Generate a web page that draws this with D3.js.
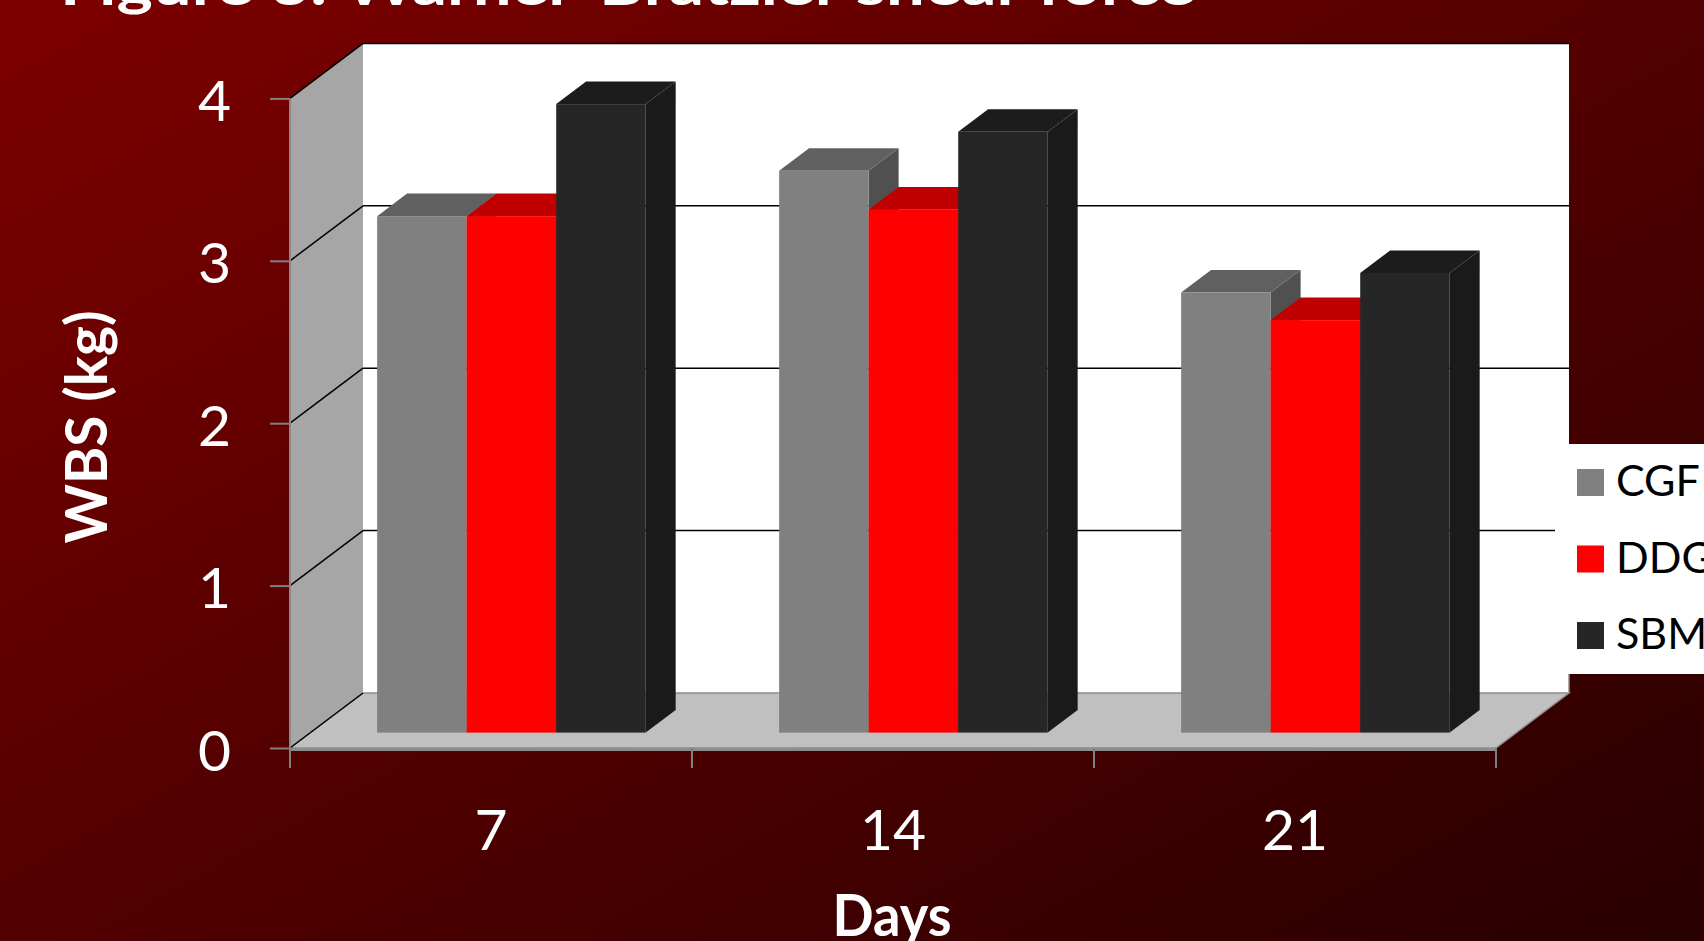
<!DOCTYPE html>
<html>
<head>
<meta charset="utf-8">
<script src="https://cdn.jsdelivr.net/npm/d3@7"></script>
<style>
  body { margin: 0; overflow: hidden; }
  text { font-family: Lato, "Open Sans", sans-serif; }
</style>
</head>
<body>
<div class="chart"></div>
<script>
let days = ["7", "14", "21"];
let series = ["CGF", "DDG", "SBM"];
let cgf = [3.18, 3.46, 2.71];
let ddg = [3.18, 3.22, 2.54];
let sbm = [3.87, 3.70, 2.83];
let yTicks = [0, 1, 2, 3, 4];

let values = { CGF: cgf, DDG: ddg, SBM: sbm };

let svgWidth = 1704;
let svgHeight = 941;

// oblique depth of the 3d box
let depthX = 73;
let depthY = 55;
let barZ0 = 0.28;
let barZ1 = 0.69;

let colors = {
  CGF: { front: "#808080", top: "#606060", side: "#505050" },
  DDG: { front: "#ff0000", top: "#c00000", side: "#a00000" },
  SBM: { front: "#262626", top: "#1c1c1c", side: "#1a1a1a" }
};

let svg = d3.select(".chart")
  .append("svg")
  .attr("width", svgWidth)
  .attr("height", svgHeight);

let grad = svg.append("defs").append("linearGradient")
  .attr("id", "bg")
  .attr("x1", 0).attr("y1", 0)
  .attr("x2", 1).attr("y2", 1);
grad.append("stop").attr("offset", "0%").attr("stop-color", "#7e0000");
grad.append("stop").attr("offset", "100%").attr("stop-color", "#280000");

svg.append("rect")
  .attr("width", svgWidth)
  .attr("height", svgHeight)
  .attr("fill", "url(#bg)");

let xScale = d3.scaleBand()
  .domain(days)
  .range([290, 1496]);

let barScale = d3.scaleBand()
  .domain(series)
  .range([0, xScale.bandwidth()])
  .paddingOuter(0.745);

let yScale = d3.scaleLinear()
  .domain([0, 4])
  .range([748, 98.4]);

let x0 = xScale.range()[0];
let x1 = xScale.range()[1];
let yTop = yScale(4);
let yBase = yScale(0);

// back wall
svg.append("rect")
  .attr("x", x0 + depthX)
  .attr("y", yTop - depthY)
  .attr("width", x1 - x0)
  .attr("height", yBase - yTop)
  .attr("fill", "white");

// side wall
svg.append("polygon")
  .attr("points", [
    [x0, yTop], [x0 + depthX, yTop - depthY],
    [x0 + depthX, yBase - depthY], [x0, yBase]
  ].join(" "))
  .attr("fill", "#a6a6a6");

// floor
svg.append("polygon")
  .attr("points", [
    [x0, yBase], [x1, yBase],
    [x1 + depthX, yBase - depthY], [x0 + depthX, yBase - depthY]
  ].join(" "))
  .attr("fill", "#c0c0c0")
  .attr("stroke", "#8c8c8c")
  .attr("stroke-width", 1.5);

svg.append("rect")
  .attr("x", x0)
  .attr("y", yBase)
  .attr("width", x1 - x0)
  .attr("height", 3)
  .attr("fill", "#8c8c8c");

svg.append("line")
  .attr("x1", x1 + depthX).attr("x2", x1 + depthX)
  .attr("y1", yBase - depthY - 20).attr("y2", yBase - depthY)
  .attr("stroke", "#8c8c8c")
  .attr("stroke-width", 1.5);

// gridlines on back and side walls
svg.selectAll(".grid")
  .data(yTicks.filter(d => d > 0))
  .enter()
  .append("line")
  .classed("grid", true)
  .attr("x1", x0 + depthX)
  .attr("x2", x1 + depthX)
  .attr("y1", d => yScale(d) - depthY)
  .attr("y2", d => yScale(d) - depthY)
  .attr("stroke", "black")
  .attr("stroke-width", 1.5);

svg.selectAll(".sidegrid")
  .data(yTicks)
  .enter()
  .append("line")
  .classed("sidegrid", true)
  .attr("x1", x0)
  .attr("x2", x0 + depthX)
  .attr("y1", d => yScale(d))
  .attr("y2", d => yScale(d) - depthY)
  .attr("stroke", "black")
  .attr("stroke-width", 1.5);

svg.append("line")
  .attr("x1", x0).attr("x2", x0)
  .attr("y1", yTop).attr("y2", yBase)
  .attr("stroke", "#8a8a8a")
  .attr("stroke-width", 2);

// bars
let bars = [];
days.forEach(function(day, i) {
  series.forEach(function(s) {
    bars.push({ day: day, series: s, value: values[s][i] });
  });
});

let w = barScale.bandwidth();
let sdx = (barZ1 - barZ0) * depthX;
let sdy = (barZ1 - barZ0) * depthY;

let barGroups = svg.selectAll(".bar")
  .data(bars)
  .enter()
  .append("g")
  .classed("bar", true);

function barLeft(d) {
  return xScale(d.day) + barScale(d.series) + barZ0 * depthX;
}
function barTop(d) {
  return yScale(d.value) - barZ0 * depthY;
}
let barBottom = yBase - barZ0 * depthY;

barGroups.append("polygon")
  .attr("points", d => {
    let l = barLeft(d), t = barTop(d);
    return [[l + w, t], [l + w + sdx, t - sdy], [l + w + sdx, barBottom - sdy], [l + w, barBottom]].join(" ");
  })
  .attr("fill", d => colors[d.series].side);

barGroups.append("polygon")
  .attr("points", d => {
    let l = barLeft(d), t = barTop(d);
    return [[l, t], [l + w, t], [l + w + sdx, t - sdy], [l + sdx, t - sdy]].join(" ");
  })
  .attr("fill", d => colors[d.series].top);

barGroups.append("rect")
  .attr("x", d => barLeft(d))
  .attr("y", d => barTop(d))
  .attr("width", w)
  .attr("height", d => barBottom - barTop(d))
  .attr("fill", d => colors[d.series].front);

// y axis
let yAxis = svg.append("g")
  .attr("transform", `translate(${x0}, 0)`)
  .call(d3.axisLeft(yScale).tickValues(yTicks).tickSize(20).tickPadding(39).tickFormat(d3.format("d")));

yAxis.select(".domain").remove();
yAxis.selectAll("line")
  .attr("stroke", "#808080")
  .attr("stroke-width", 2);
yAxis.selectAll("text")
  .attr("fill", "white")
  .attr("dy", "22px")
  .style("font-size", "57px");

// x axis
let xAxis = svg.append("g")
  .attr("transform", `translate(0, ${yBase})`)
  .call(d3.axisBottom(xScale).tickSize(0));

xAxis.select(".domain").remove();
xAxis.selectAll("text")
  .attr("fill", "white")
  .attr("y", 102)
  .attr("dy", 0)
  .style("font-size", "57px");

svg.selectAll(".xtick")
  .data(days.map(d => xScale(d)).concat([x1]))
  .enter()
  .append("line")
  .classed("xtick", true)
  .attr("x1", d => d).attr("x2", d => d)
  .attr("y1", yBase).attr("y2", yBase + 20)
  .attr("stroke", "#808080")
  .attr("stroke-width", 2);

// legend
svg.append("rect")
  .attr("x", 1555)
  .attr("y", 444)
  .attr("width", 149)
  .attr("height", 230)
  .attr("fill", "white");

let legend = svg.selectAll(".legend")
  .data(series)
  .enter()
  .append("g")
  .classed("legend", true)
  .attr("transform", (d, i) => `translate(1577, ${469 + i * 76.5})`);

legend.append("rect")
  .attr("width", 27)
  .attr("height", 27)
  .attr("fill", d => colors[d].front);

legend.append("text")
  .attr("x", 39)
  .attr("y", 27)
  .attr("fill", "black")
  .style("font-size", "43px")
  .text(d => d);

// titles
svg.append("text")
  .attr("x", 60)
  .attr("y", 5)
  .attr("fill", "white")
  .attr("textLength", 1135)
  .attr("lengthAdjust", "spacingAndGlyphs")
  .style("font-size", "56px")
  .style("font-weight", "bold")
  .text("Figure 3: Warner-Bratzler shear force");

svg.append("text")
  .attr("x", 892)
  .attr("y", 936)
  .attr("text-anchor", "middle")
  .attr("fill", "white")
  .attr("textLength", 119)
  .attr("lengthAdjust", "spacingAndGlyphs")
  .style("font-size", "57px")
  .style("font-weight", "bold")
  .text("Days");

svg.append("text")
  .attr("transform", "translate(107, 427) rotate(-90)")
  .attr("text-anchor", "middle")
  .attr("fill", "white")
  .attr("textLength", 233)
  .attr("lengthAdjust", "spacingAndGlyphs")
  .style("font-size", "58px")
  .style("font-weight", "bold")
  .text("WBS (kg)");
</script>
</body>
</html>
